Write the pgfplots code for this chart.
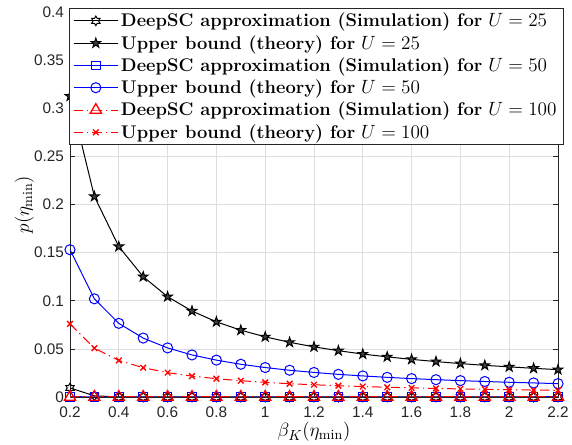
\documentclass[border=0pt]{standalone}
\usepackage{fontspec}
\usepackage{pgfplots}
\pgfplotsset{compat=1.18}
\usepackage{pgfplotstable}
\newfontfamily\ticksf{Liberation Sans}
\definecolor{axgray}{rgb}{0.15,0.15,0.15}
\definecolor{gridgray}{rgb}{0.87,0.87,0.87}
\definecolor{stargray}{rgb}{0.25,0.25,0.25}

\pgfdeclareplotmark{pentagram}{%
  \pgfpathmoveto{\pgfqpointpolar{90}{\pgfplotmarksize}}%
  \pgfpathlineto{\pgfqpointpolar{126}{0.382\pgfplotmarksize}}%
  \pgfpathlineto{\pgfqpointpolar{162}{\pgfplotmarksize}}%
  \pgfpathlineto{\pgfqpointpolar{198}{0.382\pgfplotmarksize}}%
  \pgfpathlineto{\pgfqpointpolar{234}{\pgfplotmarksize}}%
  \pgfpathlineto{\pgfqpointpolar{270}{0.382\pgfplotmarksize}}%
  \pgfpathlineto{\pgfqpointpolar{306}{\pgfplotmarksize}}%
  \pgfpathlineto{\pgfqpointpolar{342}{0.382\pgfplotmarksize}}%
  \pgfpathlineto{\pgfqpointpolar{18}{\pgfplotmarksize}}%
  \pgfpathlineto{\pgfqpointpolar{54}{0.382\pgfplotmarksize}}%
  \pgfpathclose
  \pgfusepathqfillstroke}

\pgfdeclareplotmark{hexagram}{%
  \pgfpathmoveto{\pgfqpointpolar{90}{\pgfplotmarksize}}%
  \pgfpathlineto{\pgfqpointpolar{120}{0.577\pgfplotmarksize}}%
  \pgfpathlineto{\pgfqpointpolar{150}{\pgfplotmarksize}}%
  \pgfpathlineto{\pgfqpointpolar{180}{0.577\pgfplotmarksize}}%
  \pgfpathlineto{\pgfqpointpolar{210}{\pgfplotmarksize}}%
  \pgfpathlineto{\pgfqpointpolar{240}{0.577\pgfplotmarksize}}%
  \pgfpathlineto{\pgfqpointpolar{270}{\pgfplotmarksize}}%
  \pgfpathlineto{\pgfqpointpolar{300}{0.577\pgfplotmarksize}}%
  \pgfpathlineto{\pgfqpointpolar{330}{\pgfplotmarksize}}%
  \pgfpathlineto{\pgfqpointpolar{0}{0.577\pgfplotmarksize}}%
  \pgfpathlineto{\pgfqpointpolar{30}{\pgfplotmarksize}}%
  \pgfpathlineto{\pgfqpointpolar{60}{0.577\pgfplotmarksize}}%
  \pgfpathclose
  \pgfusepathqstroke}

\pgfplotstableread{
x    s25     u25     s50  u50     s100 u100
0.2  0.0094  0.3125  0    0.1530  0    0.0760
0.3  0.0012  0.2083  0    0.1020  0    0.0507
0.4  0.0001  0.1563  0    0.0765  0    0.0380
0.5  0       0.1250  0    0.0612  0    0.0304
0.6  0       0.1042  0    0.0510  0    0.0253
0.7  0       0.0893  0    0.0437  0    0.0217
0.8  0       0.0781  0    0.0383  0    0.0190
0.9  0       0.0694  0    0.0340  0    0.0169
1.0  0       0.0625  0    0.0306  0    0.0152
1.1  0       0.0568  0    0.0278  0    0.0138
1.2  0       0.0521  0    0.0255  0    0.0127
1.3  0       0.0481  0    0.0235  0    0.0117
1.4  0       0.0446  0    0.0219  0    0.0109
1.5  0       0.0417  0    0.0204  0    0.0101
1.6  0       0.0391  0    0.0191  0    0.0095
1.7  0       0.0368  0    0.0180  0    0.0089
1.8  0       0.0347  0    0.0170  0    0.0084
1.9  0       0.0329  0    0.0161  0    0.0080
2.0  0       0.0313  0    0.0153  0    0.0076
2.1  0       0.0298  0    0.0146  0    0.0072
2.2  0       0.0284  0    0.0139  0    0.0069
}\datatable

\begin{document}
\begin{tikzpicture}
\begin{axis}[
  scale only axis,
  width=366pt, height=288.75pt,
  xmin=0.2, xmax=2.2, ymin=0, ymax=0.4,
  xtick={0.2,0.4,0.6,0.8,1,1.2,1.4,1.6,1.8,2,2.2},
  ytick={0,0.05,0.1,0.15,0.2,0.25,0.3,0.35,0.4},
  scaled ticks=false,
  xticklabels={0.2,0.4,0.6,0.8,1,1.2,1.4,1.6,1.8,2,2.2},
  yticklabels={0,0.05,0.1,0.15,0.2,0.25,0.3,0.35,0.4},
  ticklabel style={font=\ticksf\fontsize{11.5}{13.5}\selectfont, text=axgray},
  xticklabel style={yshift=-4pt},
  yticklabel style={xshift=-1pt},
  tick align=inside,
  major tick length=3.75pt,
  tick style={axgray, line width=0.5pt},
  axis line style={axgray, line width=0.6pt},
  grid=major,
  major grid style={gridgray, line width=0.5pt},
  xlabel={$\beta_K(\eta_{\min})$},
  ylabel={$p(\eta_{\min})$},
  label style={font=\fontsize{15}{17}\selectfont},
  xlabel style={at={(axis description cs:0.5,-0.0909)}, anchor=center},
  ylabel style={at={(axis description cs:-0.0935,0.5)}, anchor=center},
  legend cell align=left,
  legend style={at={(axis description cs:0,1)}, anchor=north west,
    xshift=-0.75pt, yshift=3pt, draw=axgray, line width=0.5pt,
    font=\fontsize{13.75}{16}\selectfont, inner xsep=3pt, inner ysep=1.5pt,
    row sep=0.9pt},
  legend image code/.code={%
    \draw[mark repeat=2,mark phase=2] plot coordinates {(0pt,0pt) (16.5pt,0pt) (33pt,0pt)};},
  every axis plot/.append style={line width=0.75pt},
]
\addplot[black, mark=hexagram, mark size=3.6pt, mark options={solid, fill=none}] table[x=x,y=s25] {\datatable};
\addlegendentry{\textbf{DeepSC approximation (Simulation) for} $U=25$}
\addplot[black, mark=pentagram, mark size=3.8pt, mark options={solid, fill=stargray}] table[x=x,y=u25] {\datatable};
\addlegendentry{\textbf{Upper bound (theory) for} $U=25$}
\addplot[color=blue, mark=square, mark size=3.2pt, mark options={solid, draw=blue}] table[x=x,y=s50] {\datatable};
\addlegendentry{\textbf{DeepSC approximation (Simulation) for} $U=50$}
\addplot[color=blue, mark=o, mark size=3.8pt, mark options={solid}] table[x=x,y=u50] {\datatable};
\addlegendentry{\textbf{Upper bound (theory) for} $U=50$}
\addplot[red, dash pattern=on 7pt off 3pt on 1pt off 3pt, mark=triangle, mark size=4.8pt, mark options={solid, line width=1pt}] table[x=x,y=s100] {\datatable};
\addlegendentry{\textbf{DeepSC approximation (Simulation) for} $U=100$}
\addplot[red, dash pattern=on 7pt off 3pt on 1pt off 3pt, mark=x, mark size=3pt, mark options={solid, line width=1pt}] table[x=x,y=u100] {\datatable};
\addlegendentry{\textbf{Upper bound (theory) for} $U=100$}
\end{axis}
\pgfresetboundingbox
\useasboundingbox (-52.5pt,-36pt) rectangle (376.5pt,297.75pt);
\end{tikzpicture}
\end{document}
